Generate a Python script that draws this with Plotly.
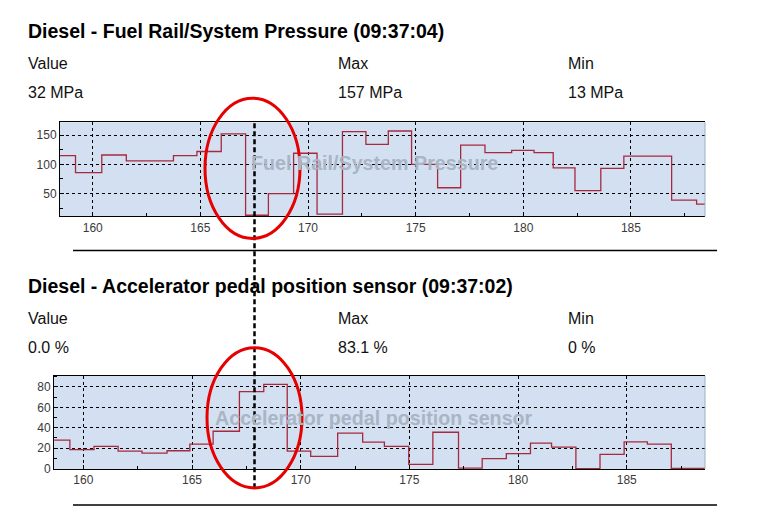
import plotly.graph_objects as go

W, H = 757, 524
SY = 524 / 516  # the page photo comes out slightly squeezed vertically

# fuel rail pressure (MPa), step changes
p_time = [158.47, 159.2, 160.42, 161.56, 163.75, 164.84, 165.97, 167.1, 168.16, 169.33,
          170.42, 171.6, 172.69, 173.73, 174.81, 176.02, 177.09, 178.22, 179.46, 180.5,
          181.39, 182.4, 183.6, 184.67, 186.89, 188.05, 188.44]
p_val = [115, 86, 116, 106, 115, 122, 152, 13, 50, 119,
         15, 156, 134, 157, 100, 60, 133, 120, 124, 120,
         94, 55, 93, 114, 39, 32, 32]

# accelerator pedal position (%), step changes
a_time = [158.66, 159.38, 160.49, 161.6, 162.7, 163.85, 164.9, 165.97, 167.18, 168.3,
          169.38, 170.46, 171.7, 172.85, 173.85, 174.97, 176.08, 177.26, 178.35, 179.46,
          180.57, 181.54, 182.66, 183.77, 184.88, 185.95, 187.05, 188.6]
a_val = [28, 18.5, 21.7, 17.2, 15.2, 17.5, 24, 36.6, 75.5, 82.6,
         17.2, 12, 34.7, 26, 21.7, 4.2, 35.6, 0.5, 9.7, 14.6,
         25, 21, 0, 13.9, 26.2, 24, 0.3, 0.3]

x_ticks = [160, 165, 170, 175, 180, 185]
p_ticks = [50, 100, 150]
a_ticks = [0, 20, 40, 60, 80]

titles = ["Diesel - Fuel Rail/System Pressure (09:37:04)",
          "Diesel - Accelerator pedal position sensor (09:37:02)"]
stat_heads = ["Value", "Max", "Min"]
p_stats = ["32 MPa", "157 MPa", "13 MPa"]
a_stats = ["0.0 %", "83.1 %", "0 %"]
watermarks = ["Fuel Rail/System Pressure", "Accelerator pedal position sensor"]


def px(x):
    return x / W


def py(y):
    return 1 - y * SY / H


line_col = "#a8283f"
fig = go.Figure()
fig.add_trace(go.Scatter(x=p_time, y=p_val, mode="lines", line=dict(color=line_col, width=1.3, shape="hv"),
                         xaxis="x", yaxis="y", showlegend=False))
fig.add_trace(go.Scatter(x=a_time, y=a_val, mode="lines", line=dict(color=line_col, width=1.3, shape="hv"),
                         xaxis="x2", yaxis="y2", showlegend=False))

tickfont = dict(family="Liberation Sans, Arial", size=12, color="#3a3a3a")
common_x = dict(tickvals=x_ticks, ticks="inside", ticklen=4, tickcolor="black", showline=True, linecolor="black",
                linewidth=1, mirror=True, showgrid=True, gridcolor="black", griddash="dot", gridwidth=1,
                zeroline=False, tickfont=tickfont,
                minor=dict(dtick=2.5, ticks="inside", ticklen=3, tickcolor="black", showgrid=False))
common_y = dict(ticks="inside", ticklen=4, tickcolor="black", showline=True, linecolor="black",
                linewidth=1, showgrid=True, gridcolor="black", griddash="dot", gridwidth=1,
                zeroline=False, tickfont=tickfont)

fig.update_layout(
    width=W, height=H, margin=dict(l=0, r=0, t=0, b=0),
    paper_bgcolor="white", plot_bgcolor="#d2e0f1",
    xaxis=dict(domain=[px(60), px(705)], range=[158.48, 188.44], anchor="y", **common_x),
    yaxis=dict(domain=[py(216), py(122)], range=[11, 172], anchor="x", tickvals=p_ticks,
               minor=dict(dtick=25, ticks="inside", ticklen=3, tickcolor="black", showgrid=False), **common_y),
    xaxis2=dict(domain=[px(54), px(705)], range=[158.65, 188.6], anchor="y2", **common_x),
    yaxis2=dict(domain=[py(468), py(375)], range=[-0.3, 91], anchor="x2", tickvals=a_ticks,
                minor=dict(dtick=10, ticks="inside", ticklen=3, tickcolor="black", showgrid=False), **common_y),
)

txt = "Liberation Sans, Arial"
ann = []
stat_x = [26, 336, 566]
for i, (ty, hy, vy, stats) in enumerate([(31, 63, 92, p_stats), (285, 318, 347, a_stats)]):
    ann.append(dict(x=px(26), y=py(ty), xref="paper", yref="paper", text="<b>" + titles[i] + "</b>",
                    showarrow=False, xanchor="left", yanchor="middle",
                    font=dict(family=txt, size=19.5, color="black")))
    for sx, head, val in zip(stat_x, stat_heads, stats):
        ann.append(dict(x=px(sx), y=py(hy), xref="paper", yref="paper", text=head, showarrow=False,
                        xanchor="left", yanchor="middle", font=dict(family=txt, size=16, color="#111111")))
        ann.append(dict(x=px(sx), y=py(vy), xref="paper", yref="paper", text=val, showarrow=False,
                        xanchor="left", yanchor="middle", font=dict(family=txt, size=16, color="#111111")))

for wx, wy, wt in [(374, 163, watermarks[0]), (374, 417, watermarks[1])]:
    ann.append(dict(x=px(wx), y=py(wy), xref="paper", yref="paper", text="<b>" + wt + "</b>",
                    showarrow=False, xanchor="center", yanchor="middle",
                    font=dict(family=txt, size=19.7, color="#a9b5c4")))
fig.update_layout(annotations=ann)

shapes = [
    # right edge of plot areas (light)
    dict(type="line", xref="paper", yref="paper", x0=px(705), x1=px(705), y0=py(122), y1=py(216),
         line=dict(color="#9fb0c4", width=1)),
    dict(type="line", xref="paper", yref="paper", x0=px(705), x1=px(705), y0=py(375), y1=py(468),
         line=dict(color="#9fb0c4", width=1)),
    # separators
    dict(type="line", xref="paper", yref="paper", x0=px(73), x1=px(717), y0=py(250), y1=py(250),
         line=dict(color="black", width=1.5)),
    dict(type="line", xref="paper", yref="paper", x0=px(73), x1=px(717), y0=py(504), y1=py(504),
         line=dict(color="black", width=1.5)),
    # dashed marker
    dict(type="line", xref="paper", yref="paper", x0=px(254.5), x1=px(254.5), y0=py(123), y1=py(490),
         line=dict(color="black", width=2.5, dash="5px,3px")),
    # red ellipses
    dict(type="circle", xref="paper", yref="paper", x0=px(205), x1=px(300), y0=py(238), y1=py(98),
         line=dict(color="#e60000", width=3)),
    dict(type="circle", xref="paper", yref="paper", x0=px(207), x1=px(302), y0=py(487), y1=py(347),
         line=dict(color="#e60000", width=3)),
]
fig.update_layout(shapes=shapes)

fig.write_html("out.html", config={"displayModeBar": False},
               post_script="document.body.style.margin='0px';"
                           "document.body.style.overflow='hidden';"
                           "document.documentElement.style.overflow='hidden';")
